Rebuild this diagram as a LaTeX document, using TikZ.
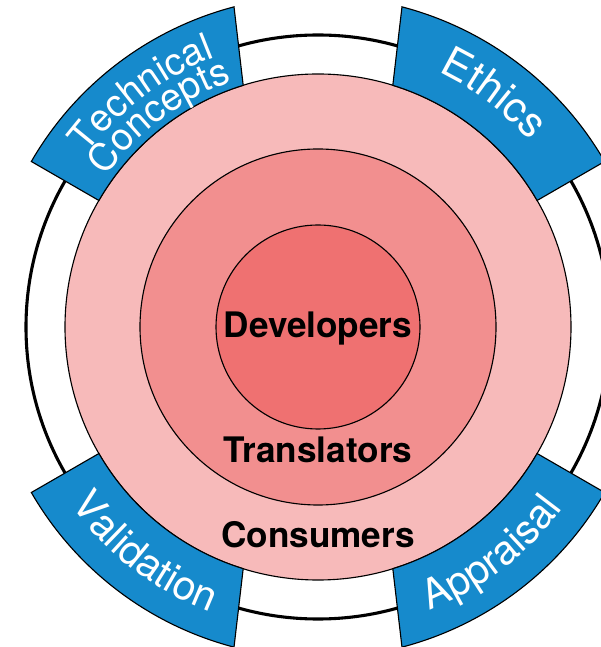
\documentclass[tikz,border=0pt]{standalone}
\usepackage{fontspec}
\setmainfont{TeX Gyre Heros}
\usetikzlibrary{decorations.text}
\definecolor{consfill}{RGB}{247,186,186}
\definecolor{transfill}{RGB}{242,143,143}
\definecolor{devfill}{RGB}{239,113,113}
\definecolor{pillarfill}{RGB}{22,138,204}

\begin{document}
\begin{tikzpicture}[
    layer/.style={draw=black,line width=0.8pt},
    pillar/.style={draw=black,fill=pillarfill,line width=0.8pt},
    who/.style={font=\fontsize{25}{25}\selectfont\bfseries,anchor=base},
    arclabel/.style={decorate,decoration={text along path,text align=center,text={#1}}},
]
\useasboundingbox (-7.95,-8.0) rectangle (7.05,8.175);

% outer ring
\draw[line width=2.2pt] (0,0) circle[radius=7.3];

% stakeholder layers
\draw[layer,fill=consfill]  (0,0) circle[radius=6.325];
\draw[layer,fill=transfill] (0,0) circle[radius=4.45];
\draw[layer,fill=devfill]   (0,0) circle[radius=2.55];

\node[who] (dev)   at (0,-0.275) {Developers};
\node[who] (trans) at (0,-3.4)   {Translators};
\node[who] (cons)  at (0,-5.5)   {Consumers};

% pillars on the ring
\draw[pillar] (104.7:8.275) arc[start angle=104.7,end angle=150,radius=8.275]
    -- (150:6.325) arc[start angle=150,end angle=107.2,radius=6.325] -- cycle;
\draw[pillar] (75.3:8.275) arc[start angle=75.3,end angle=30,radius=8.275]
    -- (30:6.325) arc[start angle=30,end angle=72.8,radius=6.325] -- cycle;
\draw[pillar] (255.3:8.275) arc[start angle=255.3,end angle=210,radius=8.275]
    -- (210:6.325) arc[start angle=210,end angle=252.8,radius=6.325] -- cycle;
\draw[pillar] (284.7:8.275) arc[start angle=284.7,end angle=330,radius=8.275]
    -- (330:6.325) arc[start angle=330,end angle=287.2,radius=6.325] -- cycle;

% pillar labels
\path[arclabel={|\fontsize{27}{27}\selectfont\color{white}|Technical}]
    (150:7.22) arc[start angle=150,end angle=104,radius=7.22];
\path[arclabel={|\fontsize{27}{27}\selectfont\color{white}|Concepts}]
    (150:6.5) arc[start angle=150,end angle=104,radius=6.5];
\path[arclabel={|\fontsize{30}{30}\selectfont\color{white}|Ethics}]
    (76:7.05) arc[start angle=76,end angle=30,radius=7.05];
\path[arclabel={|\fontsize{29}{29}\selectfont\color{white}|Validation}]
    (210:7.62) arc[start angle=210,end angle=255,radius=7.62];
\path[arclabel={|\fontsize{29}{29}\selectfont\color{white}|Appraisal}]
    (285:7.62) arc[start angle=285,end angle=330,radius=7.62];
\end{tikzpicture}
\end{document}
